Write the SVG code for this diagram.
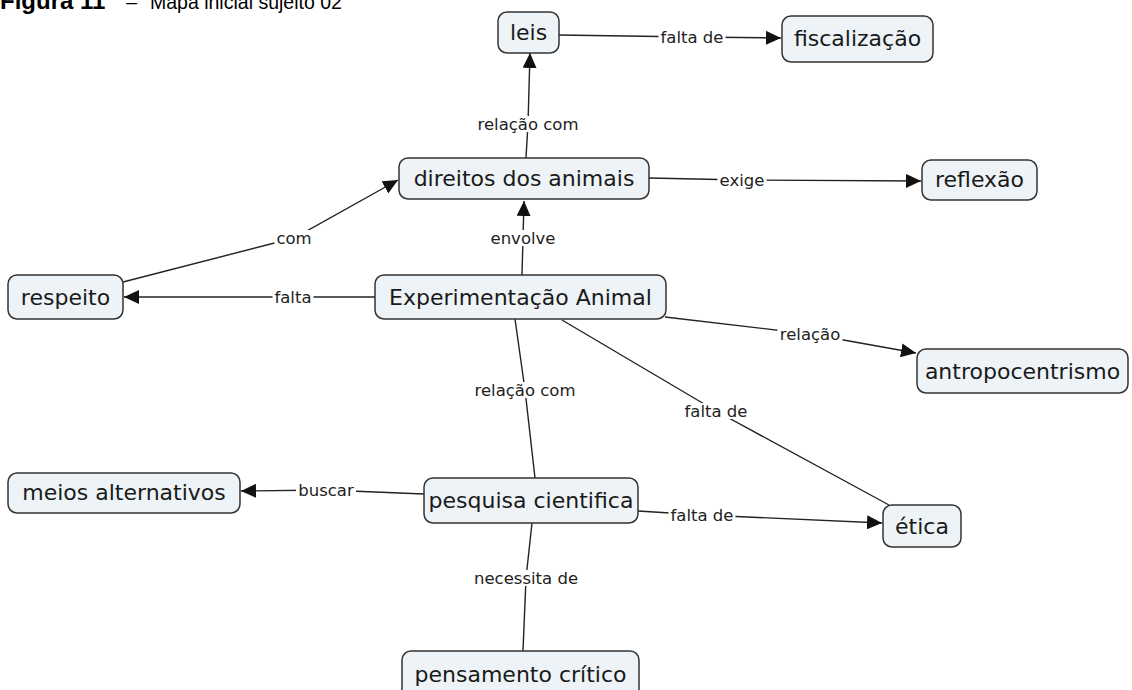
<svg xmlns="http://www.w3.org/2000/svg" width="1132" height="690" viewBox="0 0 1132 690">
<style>
.node rect{fill:#edf3f6;stroke:#333;stroke-width:1.5}
.node text{font-family:"DejaVu Sans",Verdana,sans-serif;font-size:22px;fill:#1a1a1a;text-anchor:middle}
.conn path{fill:none;stroke:#222;stroke-width:1.4}
.conn rect{fill:#fff}
.lbl{font-family:"DejaVu Sans",Verdana,sans-serif;font-size:16.5px;fill:#222;text-anchor:middle}
.title{font-family:"Liberation Sans",Arial,sans-serif;fill:#000}
</style>
<defs>
<marker id="arr" markerUnits="userSpaceOnUse" markerWidth="16" markerHeight="14" refX="15" refY="7" orient="auto">
<path d="M0,0 L15,7 L0,14 z" fill="#111"/>
</marker>
</defs>
<rect width="1132" height="690" fill="#fff"/>
<text class="title" x="0" y="9" font-size="24"><tspan font-weight="bold">Figura 11</tspan><tspan x="126" font-size="20">–</tspan><tspan x="150" font-size="19.5">Mapa inicial sujeito 02</tspan></text>
<g class="conn" id="connectors">
<path d="M559,35 L692,37 L781,38" marker-end="url(#arr)"/>
<path d="M526,158 L528,124 L530,53" marker-end="url(#arr)"/>
<path d="M649,178 L742,180 L921,181" marker-end="url(#arr)"/>
<path d="M123,282 L294,238 L398,180" marker-end="url(#arr)"/>
<path d="M522,275 L523,238 L524,201" marker-end="url(#arr)"/>
<path d="M375,297 L293,297 L124,297" marker-end="url(#arr)"/>
<path d="M665,317 L810,334 L916,353" marker-end="url(#arr)"/>
<path d="M515,319 L525,390 L535,478"/>
<path d="M562,320 L716,411 L889,505"/>
<path d="M424,494 L326,490 L241,491" marker-end="url(#arr)"/>
<path d="M638,511 L702,515 L882,523" marker-end="url(#arr)"/>
<path d="M532,523 L526,578 L523,651"/>
<rect x="658.5" y="29" width="67" height="16"/>
<rect x="475.5" y="116" width="105" height="16"/>
<rect x="717.5" y="172" width="49" height="16"/>
<rect x="274.5" y="230" width="39" height="16"/>
<rect x="488.5" y="230" width="69" height="16"/>
<rect x="272.5" y="289" width="41" height="16"/>
<rect x="777.5" y="326" width="65" height="16"/>
<rect x="472.5" y="382" width="105" height="16"/>
<rect x="682.5" y="403" width="67" height="16"/>
<rect x="296" y="482" width="60" height="16"/>
<rect x="668.5" y="507" width="67" height="16"/>
<rect x="472" y="570" width="108" height="16"/>
<text class="lbl" x="692" y="43">falta de</text>
<text class="lbl" x="528" y="130">relação com</text>
<text class="lbl" x="742" y="186">exige</text>
<text class="lbl" x="294" y="244">com</text>
<text class="lbl" x="523" y="244">envolve</text>
<text class="lbl" x="293" y="303">falta</text>
<text class="lbl" x="810" y="340">relação</text>
<text class="lbl" x="525" y="396">relação com</text>
<text class="lbl" x="716" y="417">falta de</text>
<text class="lbl" x="326" y="496">buscar</text>
<text class="lbl" x="702" y="521">falta de</text>
<text class="lbl" x="526" y="584">necessita de</text>
</g>
<g class="node" id="leis"><rect x="498" y="12" width="61" height="41" rx="9"/><text x="528.5" y="40">leis</text></g>
<g class="node" id="fiscalizacao"><rect x="782" y="16" width="151" height="46" rx="9"/><text x="857.5" y="46">fiscalização</text></g>
<g class="node" id="direitos"><rect x="399" y="158" width="250" height="41" rx="9"/><text x="524" y="186">direitos dos animais</text></g>
<g class="node" id="reflexao"><rect x="922" y="160" width="115" height="40" rx="9"/><text x="979.5" y="187">reflexão</text></g>
<g class="node" id="experimentacao"><rect x="375" y="275" width="291" height="44" rx="9"/><text x="520.5" y="305">Experimentação Animal</text></g>
<g class="node" id="respeito"><rect x="8" y="275" width="115" height="44" rx="9"/><text x="65.5" y="305">respeito</text></g>
<g class="node" id="antropocentrismo"><rect x="917" y="349" width="211" height="44" rx="9"/><text x="1022.5" y="379">antropocentrismo</text></g>
<g class="node" id="meios"><rect x="8" y="473" width="232" height="40" rx="9"/><text x="124" y="500">meios alternativos</text></g>
<g class="node" id="pesquisa"><rect x="424" y="478" width="214" height="45" rx="9"/><text x="531" y="508">pesquisa cientifica</text></g>
<g class="node" id="etica"><rect x="883" y="505" width="78" height="42" rx="9"/><text x="922" y="534">ética</text></g>
<g class="node" id="pensamento"><rect x="402" y="651" width="237" height="50" rx="9"/><text x="520.5" y="682">pensamento crítico</text></g>
</svg>
